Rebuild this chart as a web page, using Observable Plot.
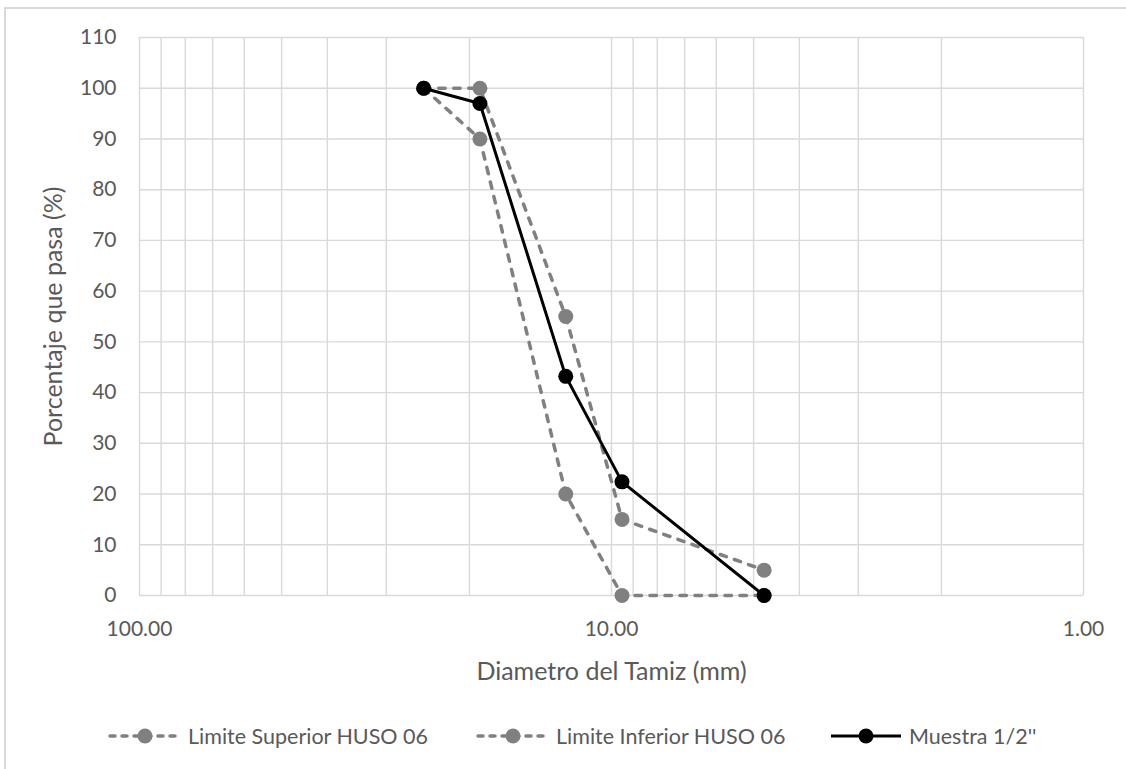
<!DOCTYPE html>
<html>
<head>
<meta charset="utf-8">
<script src="https://cdn.jsdelivr.net/npm/d3@7"></script>
<script src="https://cdn.jsdelivr.net/npm/@observablehq/plot@0.6"></script>
<style>
  html, body { margin: 0; padding: 0; background: #fff; overflow: hidden; width: 1126px; height: 769px; }
  #wrap { position: relative; width: 1126px; height: 769px; font-family: Lato, "Open Sans", sans-serif; color: #595959; }
  #border { position: absolute; left: 4px; top: 7px; width: 1300px; height: 900px; border: 2px solid #d9d9d9; box-sizing: border-box; }
  #chart { position: absolute; left: 0; top: 0; }
  #chart g[aria-label="x-axis label"], #chart g[aria-label="x-axis label"] text,
  #chart g[aria-label="y-axis label"], #chart g[aria-label="y-axis label"] text { font-size: 25px; }
  .leg { position: absolute; top: 723px; height: 26px; display: flex; align-items: center; font-size: 21.5px; white-space: nowrap; }
  .leg svg { display: block; margin-right: 6px; }
</style>
</head>
<body>
<div id="wrap">
  <div id="border"></div>
  <div id="chart"></div>
  <div id="legend"></div>
</div>
<script>
// Sieve sizes (mm)
const sizes = [25.0, 19.0, 12.5, 9.5, 4.75];
// Series (% passing)
const superior = [100, 100, 55, 15, 5];
const inferior = [100, 90, 20, 0, 0];
const muestra = [100, 97, 43.2, 22.4, 0];
const seriesNames = ["Limite Superior HUSO 06", "Limite Inferior HUSO 06", "Muestra 1/2''"];
// Tick labels
const xTicks = [100, 10, 1];
const xGrid = [100, 90, 80, 70, 60, 50, 40, 30, 20, 10, 9, 8, 7, 6, 5, 4, 3, 2, 1];
const yTicks = [0, 10, 20, 30, 40, 50, 60, 70, 80, 90, 100, 110];

const toRows = (vals) => sizes.map((s, i) => ({x: s, y: vals[i]}));
const supRows = toRows(superior);
const infRows = toRows(inferior);
const musRows = toRows(muestra);

const gray = "#808080";
const dash = "6.5,8.5";

const chart = Plot.plot({
  width: 1126,
  height: 700,
  marginLeft: 139,
  marginRight: 43,
  marginTop: 37,
  marginBottom: 105,
  style: {fontFamily: "Lato, 'Open Sans', sans-serif", fontSize: "21px", color: "#595959", background: "transparent", overflow: "visible"},
  x: {type: "log", domain: [100, 1]},
  y: {domain: [0, 110]},
  marks: [
    Plot.gridX(xGrid, {stroke: "#d9d9d9", strokeOpacity: 1, strokeWidth: 1.4}),
    Plot.gridY(yTicks, {stroke: "#d9d9d9", strokeOpacity: 1, strokeWidth: 1.4}),
    Plot.axisX(xTicks, {tickSize: 0, tickPadding: 26, tickFormat: d => d.toFixed(2), label: "Diametro del Tamiz (mm)", labelAnchor: "center", labelOffset: 84, labelArrow: "none", fontSize: 21}),
    Plot.axisY(yTicks, {tickSize: 0, tickPadding: 23, label: "Porcentaje que pasa (%)", labelAnchor: "center", labelOffset: 95, labelArrow: "none", fontSize: 21}),
    Plot.line(supRows, {x: "x", y: "y", stroke: gray, strokeWidth: 3.5, strokeDasharray: dash, strokeLinecap: "round"}),
    Plot.dot(supRows, {x: "x", y: "y", r: 7.5, fill: gray}),
    Plot.line(infRows, {x: "x", y: "y", stroke: gray, strokeWidth: 3.5, strokeDasharray: dash, strokeLinecap: "round"}),
    Plot.dot(infRows, {x: "x", y: "y", r: 7.5, fill: gray}),
    Plot.line(musRows, {x: "x", y: "y", stroke: "#000", strokeWidth: 3}),
    Plot.dot(musRows, {x: "x", y: "y", r: 7.5, fill: "#000"})
  ]
});
document.getElementById("chart").appendChild(chart);

// Legend
const legendDefs = [
  {name: seriesNames[0], left: 108, color: gray, dashed: true},
  {name: seriesNames[1], left: 476, color: gray, dashed: true},
  {name: seriesNames[2], left: 829, color: "#000", dashed: false}
];
const legend = document.getElementById("legend");
for (const d of legendDefs) {
  const div = document.createElement("div");
  div.className = "leg";
  div.style.left = d.left + "px";
  const w = 74;
  const svgNS = "http://www.w3.org/2000/svg";
  const svg = document.createElementNS(svgNS, "svg");
  svg.setAttribute("width", w);
  svg.setAttribute("height", 20);
  const ln = document.createElementNS(svgNS, "line");
  ln.setAttribute("x1", 2); ln.setAttribute("x2", w - 2);
  ln.setAttribute("y1", 10); ln.setAttribute("y2", 10);
  ln.setAttribute("stroke", d.color);
  ln.setAttribute("stroke-width", d.dashed ? 3.5 : 3);
  if (d.dashed) { ln.setAttribute("stroke-dasharray", "5,7"); ln.setAttribute("stroke-linecap", "round"); }
  svg.appendChild(ln);
  const c = document.createElementNS(svgNS, "circle");
  c.setAttribute("cx", w / 2); c.setAttribute("cy", 10); c.setAttribute("r", 7.5);
  c.setAttribute("fill", d.color);
  svg.appendChild(c);
  div.appendChild(svg);
  const span = document.createElement("span");
  span.textContent = d.name;
  div.appendChild(span);
  legend.appendChild(div);
}
</script>
</body>
</html>
